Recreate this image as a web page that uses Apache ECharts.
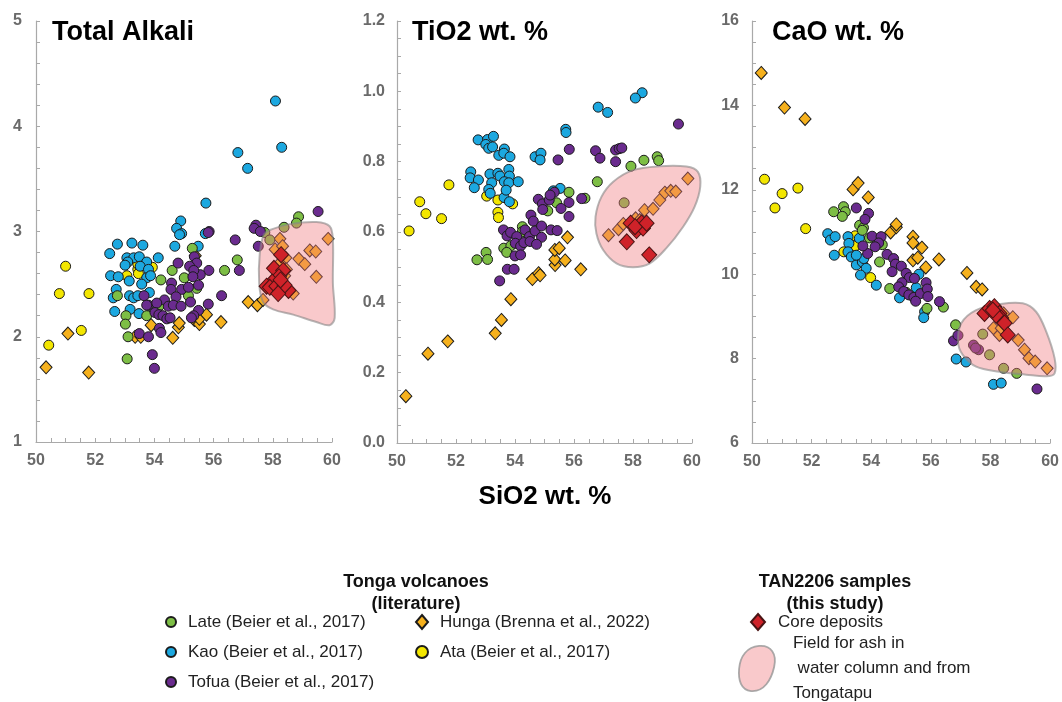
<!DOCTYPE html>
<html>
<head>
<meta charset="utf-8">
<script src="https://cdn.jsdelivr.net/npm/echarts@6/dist/echarts.min.js"></script>
<style>
  html, body { margin: 0; padding: 0; background: #fff; }
  #chart { width: 1062px; height: 702px; }
</style>
</head>
<body>
<div id="chart"></div>
<script>
// Series names
const LATE = 'Late (Beier et al., 2017)';
const KAO = 'Kao (Beier et al., 2017)';
const TOFUA = 'Tofua (Beier et al., 2017)';
const HUNGA = 'Hunga (Brenna et al., 2022)';
const ATA = 'Ata (Beier et al., 2017)';
const CORE = 'Core deposits';
const FIELD = 'Field for ash in water column and from Tongatapu';

// Panel titles and axis ticks
const panelTitles = ['Total Alkali', 'TiO2 wt. %', 'CaO wt. %'];
const xTicks = [50, 60, 2];            // min, max, step (SiO2 wt. %)
const yTicksTA = [1, 5, 1];
const yTicksTI = [0, 1.2, 0.2];
const yTicksCA = [6, 16, 2];

// ---- Total alkali vs SiO2 ----
const kaoTA = [[58.09,4.24],[58.30,3.80],[56.82,3.75],[57.15,3.60],[55.74,3.27],[54.89,3.10],[54.75,3.03],[54.92,2.98],[54.85,2.97],[55.72,2.98],[54.69,2.86],[55.48,2.86],[52.75,2.88],[53.24,2.89],[53.61,2.87],[52.49,2.79],[53.07,2.75],[53.30,2.75],[53.49,2.76],[53.10,2.71],[53.74,2.71],[54.13,2.75],[53.01,2.68],[53.52,2.67],[53.80,2.64],[52.52,2.58],[52.78,2.57],[53.15,2.53],[53.74,2.56],[53.57,2.50],[53.87,2.58],[52.71,2.45],[52.61,2.37],[53.16,2.39],[53.30,2.37],[53.44,2.39],[52.66,2.24],[53.18,2.26],[53.48,2.22],[53.83,2.42]];
const ataTA = [[51.00,2.67],[50.79,2.41],[51.79,2.41],[50.43,1.92],[51.53,2.06],[53.07,2.58],[53.44,2.64],[53.44,2.69],[53.93,2.66],[53.46,2.60]];
const lateTA = [[58.87,3.14],[58.80,3.08],[58.38,3.04],[57.73,2.99],[57.90,2.92],[56.80,2.73],[56.37,2.63],[55.28,2.84],[54.60,2.63],[54.22,2.54],[55.01,2.56],[55.43,2.46],[53.04,2.20],[53.02,2.12],[53.11,2.00],[53.08,1.79],[53.74,2.20],[53.97,2.27],[54.19,2.30],[52.75,2.39],[55.15,2.39]];
const tofuaTA = [[59.53,3.19],[57.43,3.06],[57.37,3.03],[57.58,3.00],[56.73,2.92],[57.51,2.86],[56.87,2.63],[55.85,3.00],[55.82,2.99],[55.84,2.63],[56.27,2.39],[55.82,2.31],[54.80,2.70],[55.35,2.76],[55.43,2.70],[55.19,2.67],[55.55,2.59],[55.33,2.63],[55.30,2.57],[55.49,2.49],[54.58,2.51],[54.56,2.45],[54.92,2.45],[55.15,2.47],[54.73,2.38],[54.34,2.35],[54.47,2.29],[54.64,2.30],[54.90,2.29],[55.22,2.33],[53.65,2.39],[53.80,2.30],[54.08,2.32],[54.02,2.23],[54.15,2.21],[53.74,2.30],[54.29,2.20],[54.42,2.17],[54.53,2.18],[55.49,2.25],[55.33,2.20],[55.25,2.18],[54.17,2.08],[54.22,2.04],[53.49,2.03],[53.80,2.00],[53.93,1.83],[54.00,1.70]];
const hungaTA = [[50.34,1.71],[51.08,2.03],[51.78,1.66],[53.35,2.00],[53.54,2.00],[53.89,2.11],[54.62,1.99],[54.81,2.09],[54.84,2.13],[55.38,2.77],[55.35,2.16],[55.52,2.12],[55.52,2.17],[55.76,2.21],[56.25,2.14],[57.17,2.33],[57.48,2.30],[57.67,2.35],[58.24,2.93],[58.08,2.83],[58.33,2.86],[58.44,2.75],[58.24,2.70],[58.40,2.58],[58.69,2.41],[58.88,2.74],[59.08,2.69],[59.25,2.82],[59.45,2.81],[59.47,2.57],[59.87,2.93],[58.46,2.64]];
const coreTA = [[58.28,2.78],[58.04,2.65],[58.35,2.63],[58.21,2.57],[57.98,2.52],[57.79,2.48],[57.90,2.47],[58.12,2.48],[58.53,2.44],[58.40,2.49],[58.26,2.54],[58.18,2.41]];
const fieldTA = [[57.96,3.02],[58.57,3.07],[59.47,3.09],[59.92,3.05],[60.03,2.92],[60.03,2.51],[60.09,2.18],[59.92,2.11],[59.47,2.14],[58.69,2.21],[58.01,2.26],[57.67,2.33],[57.54,2.51],[57.56,2.79],[57.70,2.97]];

// ---- TiO2 vs SiO2 ----
const kaoTI = [[58.31,0.996],[58.08,0.981],[56.82,0.955],[57.14,0.940],[55.72,0.892],[55.73,0.883],[52.75,0.862],[53.07,0.863],[53.27,0.872],[53.01,0.849],[53.11,0.838],[53.24,0.842],[53.64,0.836],[53.45,0.818],[53.62,0.824],[53.83,0.814],[54.68,0.814],[54.88,0.824],[54.85,0.805],[52.50,0.771],[52.48,0.754],[52.76,0.748],[52.62,0.726],[53.15,0.765],[53.42,0.767],[53.49,0.759],[53.79,0.778],[53.81,0.759],[53.21,0.740],[53.11,0.721],[53.64,0.743],[53.79,0.740],[54.11,0.743],[53.16,0.710],[53.63,0.698],[53.81,0.686],[55.53,0.724],[55.30,0.717],[53.70,0.719]];
const ataTI = [[50.41,0.603],[50.77,0.686],[50.98,0.652],[51.51,0.638],[51.76,0.734],[53.04,0.702],[53.42,0.691],[53.42,0.656],[53.44,0.641],[53.92,0.680]];
const lateTI = [[52.71,0.521],[53.02,0.542],[53.07,0.522],[53.62,0.554],[53.86,0.561],[53.72,0.542],[54.25,0.615],[54.25,0.601],[55.11,0.660],[55.41,0.683],[55.83,0.713],[56.37,0.696],[56.79,0.743],[57.93,0.787],[58.37,0.804],[58.82,0.814],[58.87,0.803],[57.70,0.683]];
const tofuaTI = [[59.54,0.907],[55.84,0.835],[55.46,0.805],[56.73,0.831],[56.88,0.810],[57.41,0.833],[57.53,0.837],[57.62,0.839],[57.41,0.800],[56.26,0.695],[55.83,0.684],[55.83,0.644],[54.79,0.693],[54.93,0.680],[55.16,0.691],[55.33,0.713],[55.19,0.705],[54.94,0.664],[55.56,0.667],[54.54,0.648],[54.62,0.631],[53.61,0.606],[53.73,0.589],[53.85,0.599],[54.06,0.587],[54.34,0.606],[54.49,0.587],[54.68,0.603],[54.90,0.617],[54.90,0.585],[55.22,0.606],[55.43,0.604],[54.01,0.568],[54.19,0.560],[54.30,0.570],[54.51,0.573],[54.73,0.565],[54.00,0.532],[54.19,0.535],[53.74,0.494],[53.97,0.494],[53.48,0.461]];
const hungaTI = [[50.30,0.133],[51.05,0.254],[51.72,0.289],[53.33,0.312],[53.54,0.350],[53.86,0.409],[54.59,0.466],[54.80,0.483],[54.85,0.477],[55.36,0.506],[55.35,0.522],[55.70,0.519],[55.35,0.549],[55.50,0.554],[55.78,0.585],[56.23,0.494],[57.17,0.591],[57.51,0.608],[57.67,0.623],[58.09,0.639],[58.39,0.662],[58.68,0.666],[58.91,0.691],[59.08,0.712],[59.28,0.717],[59.45,0.715],[59.86,0.752],[58.23,0.634]];
const coreTI = [[57.92,0.625],[58.29,0.626],[58.12,0.604],[58.34,0.611],[57.79,0.572],[58.55,0.535],[58.07,0.615],[58.46,0.625]];
const fieldTI = [[56.73,0.644],[56.93,0.700],[57.33,0.743],[58.00,0.776],[58.91,0.787],[59.81,0.786],[60.20,0.771],[60.28,0.729],[60.09,0.672],[59.70,0.615],[59.13,0.554],[58.57,0.511],[58.00,0.500],[57.44,0.511],[56.99,0.549],[56.76,0.596]];

// ---- CaO vs SiO2 ----
const hungaCA = [[50.31,14.77],[51.09,13.95],[51.78,13.68],[53.39,12.01],[53.56,12.16],[53.90,11.82],[54.65,10.99],[54.84,11.11],[54.84,11.18],[55.40,10.89],[55.40,10.74],[55.70,10.63],[55.40,10.33],[55.56,10.39],[55.83,10.16],[56.27,10.35],[57.21,10.03],[57.52,9.70],[57.72,9.64],[58.10,8.72],[58.30,8.92],[58.44,9.07],[58.75,8.98],[58.30,8.56],[58.93,8.44],[59.14,8.21],[59.29,8.01],[59.50,7.93],[59.90,7.77],[58.36,8.72]];
const ataCA = [[50.42,12.25],[50.77,11.57],[51.01,11.91],[51.54,12.04],[51.80,11.08],[53.08,10.53],[53.46,10.91],[53.46,10.67],[53.98,9.92]];
const kaoCA = [[52.54,10.96],[52.63,10.81],[52.79,10.89],[52.76,10.45],[53.22,10.89],[53.25,10.73],[53.22,10.53],[53.33,10.41],[53.50,10.22],[53.70,10.29],[53.75,10.37],[53.83,10.14],[53.64,9.98],[54.17,9.74],[54.95,9.44],[55.60,10.00],[55.51,9.68],[55.79,9.11],[55.76,8.97],[56.85,7.99],[57.18,7.92],[58.10,7.39],[58.36,7.42],[53.60,10.85],[53.50,10.45]];
const lateCA = [[52.74,11.48],[53.07,11.60],[53.13,11.48],[53.03,11.37],[53.61,11.16],[53.74,11.10],[53.70,11.04],[53.94,10.86],[54.37,10.70],[54.28,10.29],[54.62,9.66],[55.17,9.57],[55.87,9.19],[56.42,9.22],[56.83,8.80],[57.74,8.58],[57.97,8.09],[58.44,7.77],[58.88,7.65]];
const tofuaCA = [[53.50,11.57],[53.91,11.44],[53.79,11.30],[54.03,10.90],[54.33,10.89],[54.25,10.74],[54.13,10.65],[53.88,10.49],[53.72,10.67],[54.53,10.47],[54.75,10.37],[54.81,10.24],[55.01,10.19],[54.70,10.06],[55.17,10.02],[55.28,9.92],[55.45,9.90],[55.03,9.80],[54.92,9.70],[55.09,9.59],[55.26,9.51],[55.43,9.45],[55.65,9.54],[55.49,9.36],[55.84,9.80],[55.88,9.65],[55.90,9.47],[56.29,9.35],[56.76,8.42],[56.91,8.55],[57.43,8.32],[57.60,8.21],[57.50,8.25],[59.56,7.28]];
const coreCA = [[57.80,9.07],[57.97,9.19],[58.13,9.23],[58.30,9.07],[58.36,8.96],[58.47,8.84],[58.58,8.56],[58.19,9.03],[58.08,9.15]];
const fieldCA = [[57.02,8.84],[57.52,9.15],[58.30,9.29],[59.08,9.31],[59.53,9.11],[59.87,8.64],[60.15,8.01],[60.15,7.65],[59.87,7.58],[59.20,7.62],[58.30,7.69],[57.52,7.81],[57.07,8.09],[56.91,8.40]];

// ---- styling ----
const FONT = 'Liberation Sans, Arial, Helvetica, sans-serif';
const COLORS = {
  late: '#7dbe45', kao: '#1ca8e0', tofua: '#6a2b8e', hunga: '#f6b11d', ata: '#f3e600', core: '#cf2229'
};
const FIELD_FILL = 'rgba(240,120,125,0.4)';
const FIELD_STROKE = 'rgba(135,135,135,0.6)';
const AXIS_GREY = '#a9a9a9';

const gridBoxes = [
  { left: 36, top: 21, width: 296, height: 421 },
  { left: 397, top: 21, width: 295, height: 422 },
  { left: 752, top: 21, width: 299, height: 422 }
];

function xAxisFor(i) {
  return {
    type: 'value', gridIndex: i, min: xTicks[0], max: xTicks[1], interval: xTicks[2],
    axisLine: { show: true, lineStyle: { color: AXIS_GREY, width: 1.2 } },
    axisTick: { show: true, inside: true, length: 4, lineStyle: { color: AXIS_GREY } },
    minorTick: { show: true, splitNumber: 4, length: 4, lineStyle: { color: AXIS_GREY } },
    splitLine: { show: false },
    axisLabel: { color: '#6a6a6a', fontWeight: 'bold', fontSize: 16, fontFamily: FONT, margin: 11 }
  };
}
function yAxisFor(i, ticks, minor, digits, margin) {
  return {
    type: 'value', gridIndex: i, min: ticks[0], max: ticks[1], interval: ticks[2],
    axisLine: { show: true, lineStyle: { color: AXIS_GREY, width: 1.2 } },
    axisTick: { show: true, inside: true, length: 4, lineStyle: { color: AXIS_GREY } },
    minorTick: { show: true, splitNumber: minor, length: 4, lineStyle: { color: AXIS_GREY } },
    splitLine: { show: false },
    axisLabel: {
      color: '#6a6a6a', fontWeight: 'bold', fontSize: 16, fontFamily: FONT, margin,
      formatter: v => v.toFixed(digits)
    }
  };
}

function scatter(name, data, idx, symbol, color, size, z) {
  return {
    type: 'scatter', name, data, xAxisIndex: idx, yAxisIndex: idx,
    symbol, symbolSize: size, z, silent: true,
    itemStyle: { color, borderColor: '#1b1b1b', borderWidth: 1, opacity: 1 }
  };
}

function field(data, idx) {
  return {
    type: 'custom', name: FIELD, data, xAxisIndex: idx, yAxisIndex: idx,
    clip: false, z: 3, silent: true,
    itemStyle: { color: FIELD_FILL, borderColor: FIELD_STROKE, borderWidth: 2 },
    renderItem: function (params, api) {
      if (params.dataIndex !== 0) return null;
      const points = data.map(p => api.coord(p));
      return {
        type: 'polygon',
        shape: { points, smooth: 0.35 },
        style: { fill: FIELD_FILL, stroke: FIELD_STROKE, lineWidth: 2 }
      };
    }
  };
}

const panels = [
  { late: lateTA, kao: kaoTA, tofua: tofuaTA, hunga: hungaTA, ata: ataTA, core: coreTA, field: fieldTA },
  { late: lateTI, kao: kaoTI, tofua: tofuaTI, hunga: hungaTI, ata: ataTI, core: coreTI, field: fieldTI },
  { late: lateCA, kao: kaoCA, tofua: tofuaCA, hunga: hungaCA, ata: ataCA, core: coreCA, field: fieldCA }
];

const series = [];
panels.forEach((p, i) => {
  series.push(scatter(ATA, p.ata, i, 'circle', COLORS.ata, 10, 2));
  series.push(scatter(HUNGA, p.hunga, i, 'diamond', COLORS.hunga, [12, 13], 2));
  series.push(scatter(KAO, p.kao, i, 'circle', COLORS.kao, 10, 2));
  series.push(scatter(LATE, p.late, i, 'circle', COLORS.late, 10, 2));
  series.push(scatter(TOFUA, p.tofua, i, 'circle', COLORS.tofua, 10, 2));
  series.push(field(p.field, i));
  const c = scatter(CORE, p.core, i, 'diamond', COLORS.core, [15, 16], 4);
  c.itemStyle.borderColor = '#4a1414';
  series.push(c);
});

const legendText = { fontSize: 17, color: '#222', fontFamily: FONT, lineHeight: 20 };
const blobIcon = 'path://M21,1 C33,0 39,9 36,22 C33,35 26,47 13,46 C3,45 0,35 1,24 C2,11 9,2 21,1 Z';

const option = {
  animation: false,
  backgroundColor: '#ffffff',
  grid: gridBoxes.map(g => Object.assign({ containLabel: false }, g)),
  xAxis: [xAxisFor(0), xAxisFor(1), xAxisFor(2)],
  yAxis: [yAxisFor(0, yTicksTA, 5, 0, 14), yAxisFor(1, yTicksTI, 4, 1, 12), yAxisFor(2, yTicksCA, 4, 0, 13)],
  legend: [
    {
      left: 160, top: 607, orient: 'vertical', itemGap: 10, itemWidth: 10, itemHeight: 10, selectedMode: false,
      data: [{ name: LATE, icon: 'circle' }, { name: KAO, icon: 'circle' }, { name: TOFUA, icon: 'circle' }],
      textStyle: Object.assign({ padding: [0, 0, 0, 7] }, legendText)
    },
    {
      left: 410, top: 607, orient: 'vertical', itemGap: 10, itemWidth: 12, itemHeight: 14, selectedMode: false,
      data: [{ name: HUNGA, icon: 'diamond' }, { name: ATA, icon: 'circle', itemWidth: 10 }],
      textStyle: Object.assign({ padding: [0, 0, 0, 7] }, legendText)
    },
    {
      left: 745, top: 607, orient: 'vertical', itemWidth: 14, itemHeight: 16, selectedMode: false,
      data: [{ name: CORE, icon: 'diamond' }],
      textStyle: Object.assign({ padding: [0, 0, 0, 8] }, legendText)
    },
    {
      left: 733, top: 619, orient: 'vertical', itemWidth: 36, itemHeight: 46, selectedMode: false,
      data: [{
        name: FIELD, icon: blobIcon,
        itemStyle: { color: FIELD_FILL, borderColor: 'rgba(150,150,150,0.8)', borderWidth: 1.8 }
      }],
      formatter: () => 'Field for ash in\n water column and from\nTongatapu',
      textStyle: Object.assign({}, legendText, { lineHeight: 25, padding: [14, 0, 0, 13] })
    }
  ],
  graphic: [
    { type: 'text', x: 52, y: 33, style: { text: panelTitles[0], font: 'bold 27px ' + FONT, fill: '#000', verticalAlign: 'middle' } },
    { type: 'text', x: 412, y: 33, style: { text: panelTitles[1], font: 'bold 27px ' + FONT, fill: '#000', verticalAlign: 'middle' } },
    { type: 'text', x: 772, y: 33, style: { text: panelTitles[2], font: 'bold 27px ' + FONT, fill: '#000', verticalAlign: 'middle' } },
    { type: 'text', x: 545, y: 497, style: { text: 'SiO2 wt. %', font: 'bold 26px ' + FONT, fill: '#000', align: 'center', verticalAlign: 'middle' } },
    { type: 'text', x: 416, y: 593, style: { text: 'Tonga volcanoes\n(literature)', font: 'bold 18px ' + FONT, lineHeight: 22, fill: '#111', align: 'center', verticalAlign: 'middle' } },
    { type: 'text', x: 835, y: 593, style: { text: 'TAN2206 samples\n(this study)', font: 'bold 18px ' + FONT, lineHeight: 22, fill: '#111', align: 'center', verticalAlign: 'middle' } }
  ],
  series
};

const chart = echarts.init(document.getElementById('chart'), null, { renderer: 'canvas' });
chart.setOption(option);
</script>
</body>
</html>
